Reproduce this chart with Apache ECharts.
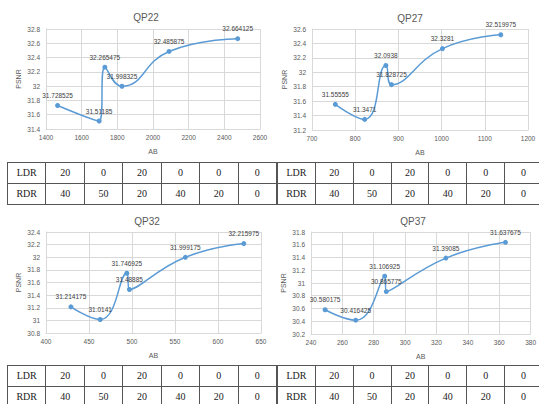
<!DOCTYPE html>
<html>
<head>
<meta charset="utf-8">
<script src="https://cdn.jsdelivr.net/npm/echarts/dist/echarts.min.js"></script>
<style>
  html, body { margin: 0; padding: 0; background: #fff; }
  #wrap { position: relative; width: 539px; height: 404px; overflow: hidden; }
  #chart { position: absolute; left: 0; top: 0; width: 539px; height: 404px; }
  table.dr {
    position: absolute; border-collapse: collapse; table-layout: fixed;
    font-family: "Liberation Serif", "DejaVu Serif", serif; font-size: 10px; color: #222;
  }
  table.dr td {
    border: 1px solid #555; text-align: center; padding: 0; height: 20px; line-height: 20px;
  }
</style>
</head>
<body>
<div id="wrap">
  <div id="chart"></div>
</div>
<script>
// Panel titles
const panelTitles = ['QP22', 'QP27', 'QP32', 'QP37'];

// Average bitrate (AB) and PSNR for each QP
const abQP22 = [1465, 1698, 1730, 1826, 2090, 2475];
const psnrQP22 = [31.728525, 31.51185, 32.265475, 31.998325, 32.485875, 32.664125];

const abQP27 = [754, 822, 871, 884, 1002, 1137];
const psnrQP27 = [31.55555, 31.3471, 32.0938, 31.828725, 32.3281, 32.519975];

const abQP32 = [429, 463, 494, 497, 562, 630];
const psnrQP32 = [31.214175, 31.0141, 31.746925, 31.48885, 31.999175, 32.215975];

const abQP37 = [249, 268.5, 287, 288, 326, 364];
const psnrQP37 = [30.580175, 30.416425, 31.106925, 30.865775, 31.39085, 31.637675];

// Axis ranges per panel: [min, max, step]
const xRanges = [[1400, 2600, 200], [700, 1200, 100], [400, 650, 50], [240, 380, 20]];
const yRanges = [[31.4, 32.8, 0.2], [31.2, 32.6, 0.2], [30.8, 32.4, 0.2], [30.2, 31.8, 0.2]];

// Drop-rate settings listed under each chart
const rowNames = ['LDR', 'RDR'];
const ldrValues = [20, 0, 20, 0, 0, 0];
const rdrValues = [40, 50, 20, 40, 20, 0];

const abSets = [abQP22, abQP27, abQP32, abQP37];
const psnrSets = [psnrQP22, psnrQP27, psnrQP32, psnrQP37];

// Plot-area geometry for the 2x2 layout
const grids = [
  { left: 46, top: 29, width: 214, height: 100 },
  { left: 312, top: 29, width: 216, height: 101 },
  { left: 46, top: 232, width: 215, height: 101 },
  { left: 311, top: 232, width: 220, height: 102 }
];
const titlePos = [
  { x: 141, y: 7 }, { x: 405, y: 8 }, { x: 142, y: 211 }, { x: 408, y: 211 }
];

const BLUE = '#5b9bd5';
const TXT = '#595959';
const GRIDC = '#d9d9d9';
const FONT = '"Liberation Sans", Arial, sans-serif';

const option = {
  animation: false,
  title: panelTitles.map((t, i) => ({
    text: t, left: titlePos[i].x, top: titlePos[i].y, textAlign: 'center',
    textStyle: { fontSize: 10, fontWeight: 'normal', color: TXT, fontFamily: FONT }
  })),
  grid: grids,
  xAxis: xRanges.map((r, i) => ({
    type: 'value', gridIndex: i, min: r[0], max: r[1], interval: r[2],
    name: 'AB', nameLocation: 'middle', nameGap: 19,
    nameTextStyle: { fontSize: 7, color: TXT, fontFamily: FONT },
    axisLine: { show: true, lineStyle: { color: GRIDC } },
    axisTick: { show: false },
    axisLabel: { fontSize: 6.5, color: TXT, margin: 5, fontFamily: FONT, formatter: v => String(v) },
    splitLine: { show: true, lineStyle: { color: GRIDC, width: 1 } }
  })),
  yAxis: yRanges.map((r, i) => ({
    type: 'value', gridIndex: i, min: r[0], max: r[1], interval: r[2],
    name: 'PSNR', nameLocation: 'middle', nameGap: 24,
    nameTextStyle: { fontSize: 7, color: TXT, fontFamily: FONT },
    axisLine: { show: true, lineStyle: { color: GRIDC } },
    axisTick: { show: false },
    axisLabel: {
      fontSize: 6.5, color: TXT, margin: 6, fontFamily: FONT,
      formatter: v => String(Math.round(v * 10) / 10)
    },
    splitLine: { show: true, lineStyle: { color: GRIDC, width: 1 } }
  })),
  series: abSets.map((ab, i) => ({
    type: 'line', xAxisIndex: i, yAxisIndex: i,
    data: ab.map((x, k) => [x, psnrSets[i][k]]),
    smooth: 0.5,
    symbol: 'circle', symbolSize: 5,
    lineStyle: { color: BLUE, width: 1.5 },
    itemStyle: { color: BLUE },
    label: {
      show: true, position: 'top', distance: 4,
      fontSize: 6.5, color: '#404040', fontFamily: FONT,
      formatter: p => String(p.value[1])
    }
  }))
};

const chart = echarts.init(document.getElementById('chart'), null, { renderer: 'svg' });
chart.setOption(option);

// Drop-rate tables under each chart
const tablePos = [
  { left: 7, top: 162, width: 270 },
  { left: 277, top: 162, width: 266 },
  { left: 7, top: 365, width: 270 },
  { left: 277, top: 365, width: 266 }
];
const wrap = document.getElementById('wrap');
tablePos.forEach(pos => {
  const tbl = document.createElement('table');
  tbl.className = 'dr';
  tbl.style.left = pos.left + 'px';
  tbl.style.top = pos.top + 'px';
  tbl.style.width = pos.width + 'px';
  [ldrValues, rdrValues].forEach((vals, r) => {
    const tr = document.createElement('tr');
    const th = document.createElement('td');
    th.textContent = rowNames[r];
    tr.appendChild(th);
    vals.forEach(v => {
      const td = document.createElement('td');
      td.textContent = String(v);
      tr.appendChild(td);
    });
    tbl.appendChild(tr);
  });
  wrap.appendChild(tbl);
});
</script>
</body>
</html>
